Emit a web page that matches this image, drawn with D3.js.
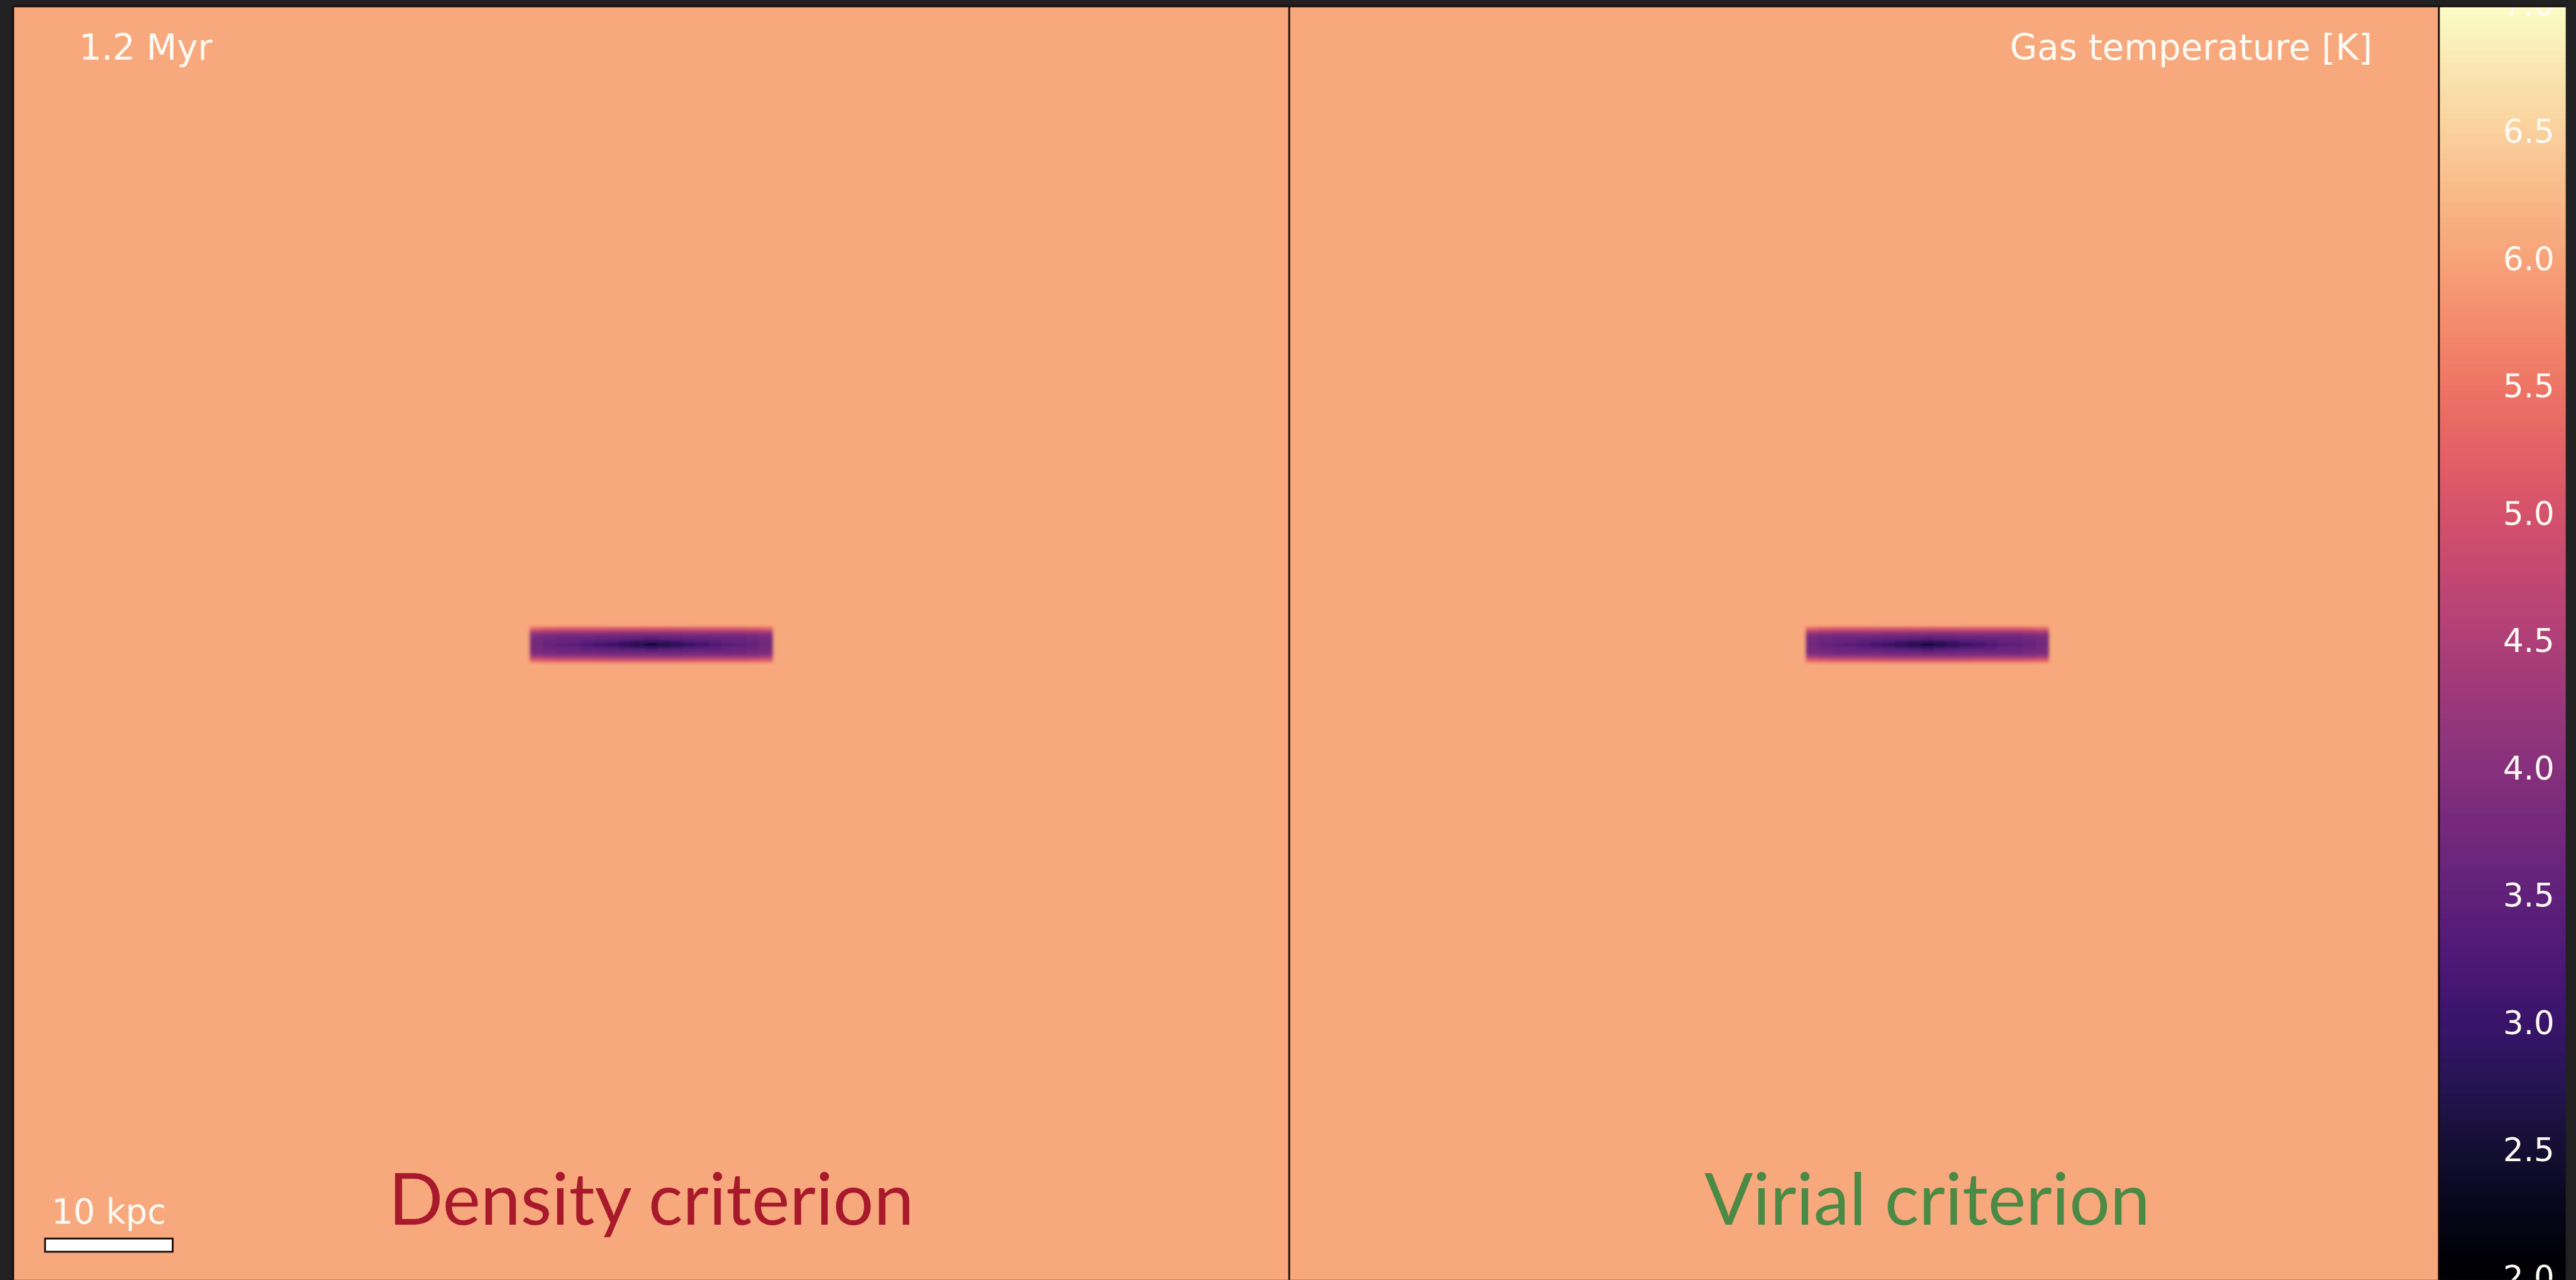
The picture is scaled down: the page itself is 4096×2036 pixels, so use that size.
<!DOCTYPE html>
<html>
<head>
<meta charset="utf-8">
<script src="https://cdn.jsdelivr.net/npm/d3@7"></script>
<style>
  html, body { margin: 0; padding: 0; background: #212121; overflow: hidden; }
  svg { display: block; }
</style>
</head>
<body>
<svg id="fig"></svg>
<script>
// ---------------- data ----------------
const panelTitles = ["Density criterion", "Virial criterion"];
const snapshotTime = "1.2 Myr";
const colorbarLabel = "Gas temperature [K]";
const colorbarTicks = [2.0, 2.5, 3.0, 3.5, 4.0, 4.5, 5.0, 5.5, 6.0, 6.5, 7.0];
const logTRange = [2, 7];          // log10 T [K] shown by the colour bar
const boxKpc = [-50, 50];          // projected box, kpc
const haloLogT = 6.05;             // hot halo gas around the disc
const scaleBarKpc = 10;

// edge-on gas disc: log10 T sampled on a 1 kpc (radial) x 0.25 kpc (vertical) grid
const diskX = [-9, -8, -7, -6, -5, -4, -3, -2, -1, 0, 1, 2, 3, 4, 5, 6, 7, 8, 9];
const diskZ = [1.25, 1.0, 0.75, 0.5, 0.25, 0, -0.25, -0.5, -0.75, -1.0, -1.25];
const diskLogT = [
  [5.25, 5.15, 5.10, 5.10, 5.10, 5.05, 5.05, 5.05, 5.05, 5.05, 5.05, 5.05, 5.05, 5.10, 5.10, 5.10, 5.10, 5.15, 5.25],
  [4.40, 4.30, 4.25, 4.25, 4.25, 4.25, 4.22, 4.22, 4.22, 4.22, 4.22, 4.22, 4.25, 4.25, 4.25, 4.25, 4.25, 4.30, 4.40],
  [3.95, 3.85, 3.80, 3.80, 3.80, 3.80, 3.78, 3.75, 3.75, 3.75, 3.75, 3.75, 3.78, 3.80, 3.80, 3.80, 3.80, 3.85, 3.95],
  [3.80, 3.70, 3.65, 3.65, 3.63, 3.60, 3.58, 3.55, 3.50, 3.45, 3.50, 3.55, 3.58, 3.60, 3.63, 3.65, 3.65, 3.70, 3.80],
  [3.75, 3.65, 3.60, 3.55, 3.45, 3.40, 3.30, 3.20, 3.10, 3.00, 3.10, 3.20, 3.30, 3.40, 3.45, 3.55, 3.60, 3.65, 3.75],
  [3.70, 3.55, 3.45, 3.35, 3.20, 3.05, 2.90, 2.70, 2.45, 2.25, 2.40, 2.65, 2.90, 3.05, 3.20, 3.35, 3.45, 3.55, 3.70],
  [3.75, 3.65, 3.60, 3.55, 3.45, 3.40, 3.30, 3.20, 3.10, 3.00, 3.10, 3.20, 3.30, 3.40, 3.45, 3.55, 3.60, 3.65, 3.75],
  [3.80, 3.70, 3.65, 3.65, 3.63, 3.60, 3.58, 3.55, 3.50, 3.45, 3.50, 3.55, 3.58, 3.60, 3.63, 3.65, 3.65, 3.70, 3.80],
  [3.95, 3.85, 3.80, 3.80, 3.80, 3.80, 3.78, 3.75, 3.75, 3.75, 3.75, 3.75, 3.78, 3.80, 3.80, 3.80, 3.80, 3.85, 3.95],
  [4.40, 4.30, 4.25, 4.25, 4.25, 4.25, 4.22, 4.22, 4.22, 4.22, 4.22, 4.22, 4.25, 4.25, 4.25, 4.25, 4.25, 4.30, 4.40],
  [5.25, 5.15, 5.10, 5.10, 5.10, 5.05, 5.05, 5.05, 5.05, 5.05, 5.05, 5.05, 5.05, 5.10, 5.10, 5.10, 5.10, 5.15, 5.25]
];

// ---------------- layout (figure units) ----------------
const W = 4302, H = 2138;
const panelSize = 2131;
const panelTop = 11;
const panelLeft = [22, 2153];
const cbX0 = 4073, cbX1 = 4285, cbTop = 10;
const titleColors = ["#a8192b", "#4a8a45"];
const textColor = "#fffaf3";
const edgeColor = "#140806";
const sansFont = "'DejaVu Sans', sans-serif";

const svg = d3.select("#fig")
  .attr("width", 4096).attr("height", 2036)
  .attr("viewBox", `0 0 ${W} ${H}`);

svg.append("rect").attr("width", W).attr("height", H).attr("fill", "#212121");

const color = d3.scaleSequential(d3.interpolateMagma).domain(logTRange);

const defs = svg.append("defs");
// slightly muted colour rendering of the maps
const muted = defs.append("filter").attr("id", "muted")
  .attr("x", 0).attr("y", 0).attr("width", 1).attr("height", 1);
muted.append("feColorMatrix").attr("type", "saturate").attr("values", 0.88);

// smoothing kernel for the gridded disc
const smooth = defs.append("filter").attr("id", "smooth")
  .attr("x", "-10%").attr("y", "-150%").attr("width", "120%").attr("height", "400%");
smooth.append("feGaussianBlur").attr("stdDeviation", 2.8);

// clip regions
panelLeft.forEach((x0, i) => {
  const right = i === 1 ? cbX0 : x0 + panelSize;
  defs.append("clipPath").attr("id", `clip${i}`)
    .append("rect").attr("x", x0).attr("y", panelTop)
    .attr("width", right - x0).attr("height", H - panelTop);
});
defs.append("clipPath").attr("id", "clipCb")
  .append("rect").attr("x", cbX0).attr("y", cbTop)
  .attr("width", cbX1 - cbX0).attr("height", H - cbTop);

// ---------------- panels ----------------
panelLeft.forEach((x0, i) => {
  const x = d3.scaleLinear().domain(boxKpc).range([x0, x0 + panelSize]);
  const y = d3.scaleLinear().domain([boxKpc[1], boxKpc[0]]).range([panelTop, panelTop + panelSize]);
  const dx = x(1) - x(0);
  const dz = y(0) - y(0.25);

  const g = svg.append("g").attr("clip-path", `url(#clip${i})`);
  const field = g.append("g").attr("filter", "url(#muted)");

  field.append("rect")
    .attr("x", x0).attr("y", panelTop)
    .attr("width", panelSize).attr("height", panelSize)
    .attr("fill", color(haloLogT));

  const cells = [];
  diskZ.forEach((z, r) => diskX.forEach((xx, c) => cells.push({ x: xx, z, v: diskLogT[r][c] })));

  field.append("g").attr("filter", "url(#smooth)")
    .selectAll("rect").data(cells).join("rect")
    .attr("x", d => x(d.x) - dx / 2)
    .attr("y", d => y(d.z) - dz / 2)
    .attr("width", dx + 0.6)
    .attr("height", dz + 0.6)
    .attr("fill", d => color(d.v));

  // panel title
  g.append("text")
    .attr("x", x(0)).attr("y", 2046)
    .attr("text-anchor", "middle")
    .attr("font-family", "Lato, 'Open Sans', sans-serif")
    .attr("font-size", 120)
    .attr("fill", titleColors[i])
    .text(panelTitles[i]);

  if (i === 0) {
    g.append("text")
      .attr("x", 132).attr("y", 100)
      .attr("font-family", sansFont).attr("font-size", 59)
      .attr("fill", textColor)
      .text(snapshotTime);

    // scale bar
    const bx0 = x(boxKpc[0] + 2.5), bx1 = x(boxKpc[0] + 2.5 + scaleBarKpc);
    g.append("rect")
      .attr("x", bx0).attr("y", 2069)
      .attr("width", bx1 - bx0).attr("height", 22)
      .attr("fill", "#ffffff")
      .attr("stroke", "#1a0c08").attr("stroke-width", 3);
    g.append("text")
      .attr("x", (bx0 + bx1) / 2).attr("y", 2044)
      .attr("text-anchor", "middle")
      .attr("font-family", sansFont).attr("font-size", 57)
      .attr("fill", textColor)
      .text(`${scaleBarKpc} kpc`);
  } else {
    g.append("text")
      .attr("x", cbX0 - 111).attr("y", 100)
      .attr("text-anchor", "end")
      .attr("font-family", sansFont).attr("font-size", 59)
      .attr("fill", textColor)
      .text(colorbarLabel);
  }
});

// ---------------- colour bar ----------------
const yCb = d3.scaleLinear().domain(logTRange).range([2132.7, 5.6]);
const cb = svg.append("g").attr("clip-path", "url(#clipCb)");
const strips = d3.range(logTRange[0] - 0.05, logTRange[1] + 0.05, 0.01);
cb.append("g").attr("filter", "url(#muted)")
  .selectAll("rect").data(strips).join("rect")
  .attr("x", cbX0).attr("width", cbX1 - cbX0)
  .attr("y", d => yCb(d + 0.01) - 0.5)
  .attr("height", d => yCb(d) - yCb(d + 0.01) + 1)
  .attr("fill", d => color(Math.min(Math.max(d + 0.005, logTRange[0]), logTRange[1])));

cb.selectAll("text").data(colorbarTicks).join("text")
  .attr("x", 4266)
  .attr("y", d => yCb(d) + 20)
  .attr("text-anchor", "end")
  .attr("font-family", sansFont).attr("font-size", 54)
  .attr("fill", textColor)
  .text(d => d.toFixed(1));

// ---------------- frame edges ----------------
const edges = [
  [panelLeft[0], panelTop, panelLeft[0], H],
  [panelLeft[0], panelTop - 0.5, cbX1, panelTop - 0.5],
  [panelLeft[1], panelTop, panelLeft[1], H],
  [cbX0, cbTop, cbX0, H]
];
svg.append("g").selectAll("line").data(edges).join("line")
  .attr("x1", d => d[0]).attr("y1", d => d[1])
  .attr("x2", d => d[2]).attr("y2", d => d[3])
  .attr("stroke", edgeColor).attr("stroke-width", 3);
</script>
</body>
</html>
